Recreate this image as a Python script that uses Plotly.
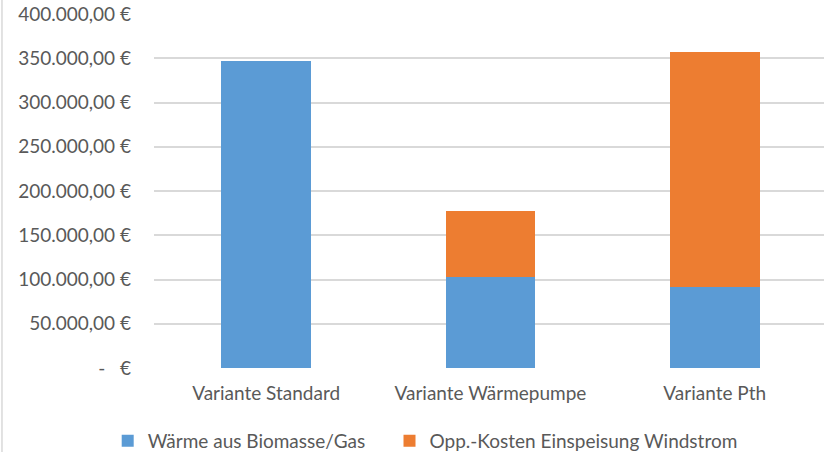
import plotly.graph_objects as go

# Kostenvergleich der Varianten (EUR)
varianten = ["Variante Standard", "Variante Wärmepumpe", "Variante Pth"]
waerme_biomasse_gas = [347000, 103000, 92000]
opp_kosten_windstrom = [0, 74000, 265000]

tick_werte = [0, 50000, 100000, 150000, 200000, 250000, 300000, 350000, 400000]
tick_texte = ["-   €", "50.000,00 €", "100.000,00 €", "150.000,00 €", "200.000,00 €",
              "250.000,00 €", "300.000,00 €", "350.000,00 €", "400.000,00 €"]

schrift = "Lato, Carlito, Calibri, sans-serif"
grau = "#595959"

fig = go.Figure()
fig.add_trace(go.Bar(
    x=varianten, y=waerme_biomasse_gas, name="Wärme aus Biomasse/Gas",
    marker=dict(color="#5B9BD5", line=dict(width=0)),
    legend="legend", showlegend=True,
))
fig.add_trace(go.Bar(
    x=varianten, y=opp_kosten_windstrom, name="Opp.-Kosten Einspeisung Windstrom",
    marker=dict(color="#ED7D31", line=dict(width=0)),
    legend="legend2", showlegend=True,
))

legende_stil = dict(orientation="h", xanchor="left", y=-0.206, yanchor="middle",
                    font=dict(size=19, color=grau), bgcolor="rgba(0,0,0,0)")

fig.update_layout(
    width=824, height=452,
    showlegend=True,
    barmode="stack", bargap=0.6,
    plot_bgcolor="white", paper_bgcolor="white",
    margin=dict(l=154, r=0, t=14, b=84, autoexpand=False),
    font=dict(family=schrift, size=19, color=grau),
    xaxis=dict(range=[-0.5, 2.487], showgrid=False, showline=False, ticks="",
               ticklabelstandoff=12, tickfont=dict(size=19, color=grau)),
    yaxis=dict(range=[0, 400000], tickvals=tick_werte, ticktext=tick_texte,
               showgrid=True, gridcolor="#D9D9D9", gridwidth=1.5, zeroline=False,
               ticks="", ticklabelstandoff=22, tickfont=dict(size=19, color=grau)),
    legend=dict(x=-0.0691, **legende_stil),
    legend2=dict(x=0.3515, **legende_stil),
    shapes=[dict(type="line", xref="paper", yref="paper", x0=-0.2269, x1=-0.2269,
                 y0=-0.3, y1=1.05, line=dict(color="#D9D9D9", width=1.5))],
)

fig.write_html("out.html")
